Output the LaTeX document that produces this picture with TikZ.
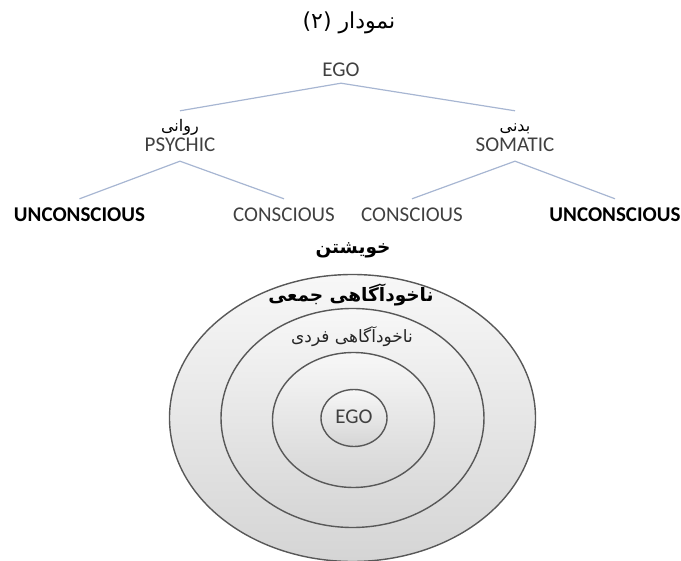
\documentclass[tikz,border=0pt]{standalone}
\usepackage{fontspec}
\setmainfont{Carlito}
\newfontfamily\fa[Script=Arabic]{DejaVu Sans}
\TeXXeTstate=1
\usetikzlibrary{shapes.geometric}
\definecolor{treeline}{RGB}{167,182,210}
\definecolor{txtgray}{RGB}{64,64,64}
\definecolor{ringline}{RGB}{88,88,88}
\tikzset{
  lat/.style={font=\fontsize{21}{24}\selectfont, text=txtgray, inner sep=0pt, text height=13.5pt, text depth=0pt},
  latb/.style={font=\fontsize{21}{24}\selectfont\bfseries, text=black, inner sep=0pt, text height=13.5pt, text depth=0pt},
  faA/.style={font=\fa\fontsize{16}{18}\selectfont, text=black, inner sep=0pt, text height=12pt, text depth=4pt},
  faT/.style={font=\fa\fontsize{22}{24}\selectfont, text=black, inner sep=0pt},
  faS/.style={font=\fa\bfseries\fontsize{18.5}{22}\selectfont, text=black, inner sep=0pt},
  faC/.style={font=\fa\bfseries\fontsize{18.5}{22}\selectfont, text=black, inner sep=0pt},
  faD/.style={font=\fa\fontsize{17}{20}\selectfont, text=black!85, inner sep=0pt},
  tree/.style={draw=treeline, line width=1.2pt},
  ring/.style={ellipse, draw=ringline, line width=1.4pt, top color=gray!6, bottom color=gray!33, inner sep=0pt}
}
\begin{document}
\begin{tikzpicture}[x=1pt,y=-1pt]
\useasboundingbox (0,0) rectangle (681,561);
% title and tree
\node[faT] (title) at (349,23) {\beginR نمودار (۲)\endR};
\node[lat] (ego) at (341,70) {EGO};
\node[faA] (psyar) at (180,128) {\beginR روانی\endR};
\node[lat] (psy) at (180,145) {PSYCHIC};
\node[faA] (somar) at (515,128) {\beginR بدنی\endR};
\node[lat] (som) at (515,145) {SOMATIC};
\node[latb] (unc1) at (79.5,215) {UNCONSCIOUS};
\node[lat] (con1) at (284,215) {CONSCIOUS};
\node[lat] (con2) at (412,215) {CONSCIOUS};
\node[latb] (unc2) at (615,215) {UNCONSCIOUS};
\draw[tree] ([yshift=-6.25pt]ego.south) -- ([yshift=9pt]psyar.north);
\draw[tree] ([yshift=-6.25pt]ego.south) -- ([yshift=9pt]somar.north);
\draw[tree] ([yshift=-9.25pt]psy.south) -- ([yshift=9.25pt]unc1.north);
\draw[tree] ([yshift=-9.25pt]psy.south) -- ([yshift=9.25pt]con1.north);
\draw[tree] ([yshift=-9.25pt]som.south) -- ([yshift=9.25pt]con2.north);
\draw[tree] ([yshift=-9.25pt]som.south) -- ([yshift=9.25pt]unc2.north);
% rings
\node[ring, minimum width=366pt, minimum height=287pt] (self) at (352.5,418) {};
\node[ring, minimum width=263pt, minimum height=219pt] (collring) at (352.5,418) {};
\node[ring, minimum width=162pt, minimum height=135pt] (persring) at (353.5,420) {};
\node[ring, minimum width=66pt, minimum height=57pt] (egoring) at (354,418) {};
\node[faS] (selfl) at (353,250) {\beginR خویشتن\endR};
\node[faC] (coll) at (351,295) {\beginR ناخودآگاهی جمعی\endR};
\node[faD] (pers) at (352,337) {\beginR ناخودآگاهی فردی\endR};
\node[lat] (egoc) at (354,417) {EGO};
\end{tikzpicture}
\end{document}
